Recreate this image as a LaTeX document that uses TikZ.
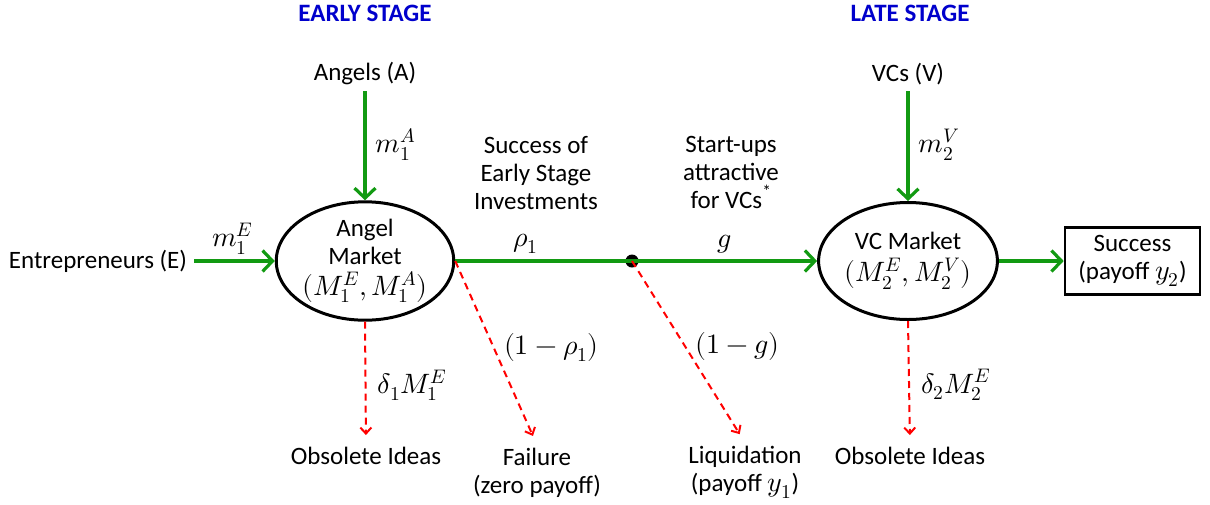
\documentclass[tikz,border=0pt]{standalone}
\usepackage{fontspec}
\usepackage{unicode-math}
\setmainfont{Carlito}
\setmathfont{Latin Modern Math}[Scale=1.12]
\usetikzlibrary{arrows.meta,shapes.geometric,positioning}
\definecolor{flow}{RGB}{18,154,18}
\definecolor{loss}{RGB}{255,0,0}
\definecolor{stage}{RGB}{0,0,204}
\tikzset{
  market/.style={draw=black, ellipse, line width=3pt, minimum width=172pt, minimum height=117pt, inner sep=0pt, align=center},
  payoff/.style={draw=black, line width=2.6pt, minimum width=135pt, minimum height=67pt, align=center, inner sep=2pt},
  plain/.style={align=center, inner sep=3pt},
  stagehead/.style={font=\fontsize{25}{28}\selectfont\bfseries, text=stage},
  flowarr/.style={-{Straight Barb[length=10pt, width=21pt]}, line width=3.2pt, draw=flow},
  lossarr/.style={-{Straight Barb[length=6pt, width=11pt]}, line width=2pt, draw=loss, dash pattern=on 7pt off 5pt}
}
\begin{document}
\begin{tikzpicture}[x=1pt, y=-1pt, font=\fontsize{25}{28}\selectfont]
  \useasboundingbox (0,0) rectangle (1210,504);

  \node[stagehead] (early) at (365,13) {EARLY STAGE};
  \node[stagehead] (late) at (910,13) {LATE STAGE};

  % early stage
  \node[plain] (angels) at (365,74) {Angels (A)};
  \node[plain] (entre) at (98,261) {Entrepreneurs (E)};
  \node[market] (angel) at (365,261) {Angel\\Market\\[3pt]$(M_1^E, M_1^A)$};
  \node[plain] (obs1) at (366,456) {Obsolete Ideas};
  \node[plain] (fail) at (537,473) {Failure\\(zero payoff)};
  \node[plain] (succ1) at (536,173) {Success of\\Early Stage\\Investments};
  \node[circle, fill=black, inner sep=0pt, minimum size=13pt] (split) at (632,261) {};

  % late stage
  \node[plain] (vcs) at (908,74) {VCs (V)};
  \node[plain] (attr) at (731,172) {Start-ups\\attractive\\for VCs\textsuperscript{*}};
  \node[market] (vc) at (908,261) {VC Market\\[4pt]$(M_2^E, M_2^V)$};
  \node[payoff] (succ2) at (1132.5,261) {Success\\(payoff $y_2$)};
  \node[plain] (liq) at (745,472) {Liquidation\\(payoff $y_1$)};
  \node[plain] (obs2) at (910,456) {Obsolete Ideas};

  \draw[flowarr, shorten <=3pt] (angels) -- node[right=6pt] {$m_1^A$} (angel.north);
  \draw[flowarr, shorten <=4pt] (entre) -- node[above=2pt] {$m_1^E$} (angel.west);
  \draw[line width=3.2pt, draw=flow] (angel.east) -- node[above=3pt, xshift=-18pt] {$\rho_1$} (split.center);
  \draw[flowarr] (split.center) -- node[above=3pt] {$g$} (vc.west);
  \draw[flowarr, shorten <=3pt] (vcs) -- node[right=6pt] {$m_2^V$} (vc.north);
  \draw[flowarr] (vc.east) -- (succ2.west);

  \draw[lossarr, shorten >=9pt] (angel.south) -- node[right=8pt, pos=0.52] {$\delta_1 M_1^E$} (obs1.north);
  \draw[lossarr, shorten >=10pt] (angel.east) -- node[right=6pt, pos=0.47] {$(1-\rho_1)$} (fail.north);
  \draw[lossarr, shorten >=10pt] (split.center) -- node[right=6pt, pos=0.47] {$(1-g)$} (liq.north);
  \draw[lossarr, shorten >=9pt] (vc.south) -- node[right=8pt, pos=0.52] {$\delta_2 M_2^E$} (obs2.north);
\end{tikzpicture}
\end{document}
